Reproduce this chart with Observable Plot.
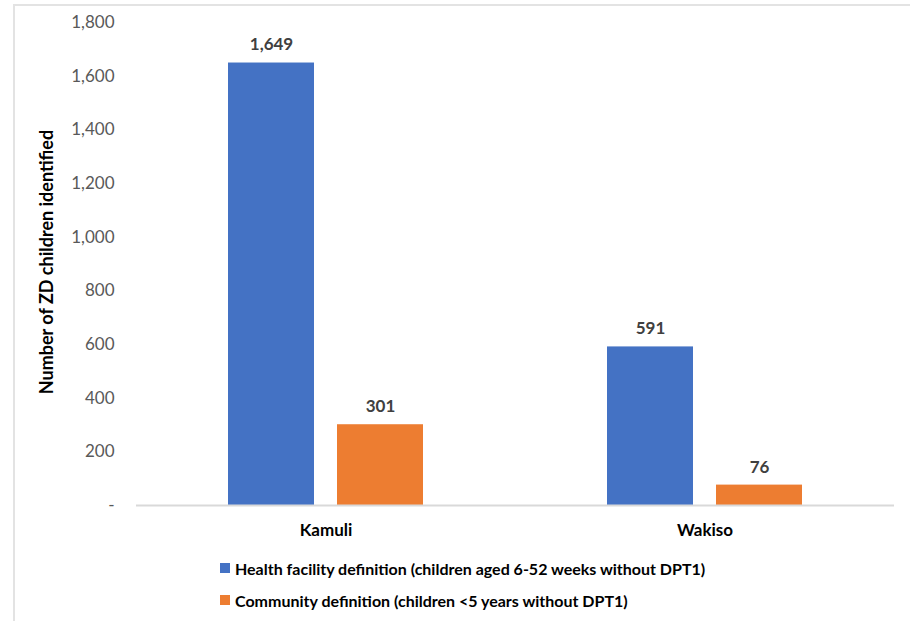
<!DOCTYPE html>
<html>
<head>
<meta charset="utf-8">
<script src="https://cdn.jsdelivr.net/npm/d3@7"></script>
<script src="https://cdn.jsdelivr.net/npm/@observablehq/plot@0.6"></script>
<style>
  html, body { margin: 0; padding: 0; background: #fff; }
  body { width: 910px; height: 621px; position: relative; overflow: hidden; font-family: Lato, "Open Sans", sans-serif; }
  #frame { position: absolute; left: 13px; top: 4px; right: -10px; bottom: -10px; border-left: 2px solid #e3e3e3; border-top: 2px solid #e3e3e3; }
  #chart { position: absolute; left: 0; top: 0; }
  #ytitle { position: absolute; left: 46px; top: 262px; transform: translate(-50%, -50%) rotate(-90deg); white-space: nowrap; font-weight: bold; font-size: 18px; color: #000; }
  #legend { position: absolute; left: 220px; top: 557px; font-weight: bold; font-size: 16px; color: #000; }
  .item { display: flex; align-items: center; height: 22px; margin-bottom: 10px; }
  .sw { width: 10px; height: 10px; margin-right: 5px; }
</style>
</head>
<body>
<div id="frame"></div>
<div id="chart"></div>
<div id="ytitle">Number of ZD children identified</div>
<div id="legend"></div>
<script>
const districts = ["Kamuli", "Wakiso"];
const seriesNames = [
  "Health facility definition (children aged 6-52 weeks without DPT1)",
  "Community definition (children <5 years without DPT1)"
];
const healthFacility = [1649, 591];
const community = [301, 76];
const colors = ["#4472C4", "#ED7D31"];
const yTicks = [0, 200, 400, 600, 800, 1000, 1200, 1400, 1600, 1800];

const data = [];
districts.forEach((d, i) => {
  data.push({district: d, series: seriesNames[0], value: healthFacility[i]});
  data.push({district: d, series: seriesNames[1], value: community[i]});
});

const fmt = d3.format(",");

const chart = Plot.plot({
  width: 910,
  height: 545,
  marginLeft: 135,
  marginRight: 16,
  marginTop: 22,
  marginBottom: 40,
  style: {fontFamily: "Lato, 'Open Sans', sans-serif", background: "transparent"},
  fx: {domain: districts, padding: 0, label: null},
  x: {domain: seriesNames, paddingInner: 0.213, paddingOuter: 0.84, axis: null},
  y: {domain: [0, 1800], label: null},
  color: {domain: seriesNames, range: colors},
  marks: [
    Plot.axisY({ticks: yTicks, tickSize: 0, tickPadding: 22, tickFormat: d => d === 0 ? "-" : fmt(d), fill: "#595959", fontSize: 17, label: null}),
    Plot.axisFx({anchor: "bottom", tickSize: 0, tickPadding: 18, fontSize: 17, fontWeight: "bold", fill: "#000", label: null}),
    Plot.barY(data, {fx: "district", x: "series", y: "value", fill: "series"}),
    Plot.ruleY([0], {stroke: "#d9d9d9", strokeWidth: 2}),
    Plot.text(data, {fx: "district", x: "series", y: "value", text: d => fmt(d.value), dy: -18, lineAnchor: "middle", fontSize: 17, fontWeight: "bold", fill: "#404040"})
  ]
});
document.getElementById("chart").appendChild(chart);

const legend = document.getElementById("legend");
seriesNames.forEach((s, i) => {
  const item = document.createElement("div");
  item.className = "item";
  const sw = document.createElement("span");
  sw.className = "sw";
  sw.style.background = colors[i];
  const t = document.createElement("span");
  t.textContent = s;
  item.appendChild(sw);
  item.appendChild(t);
  legend.appendChild(item);
});
</script>
</body>
</html>
